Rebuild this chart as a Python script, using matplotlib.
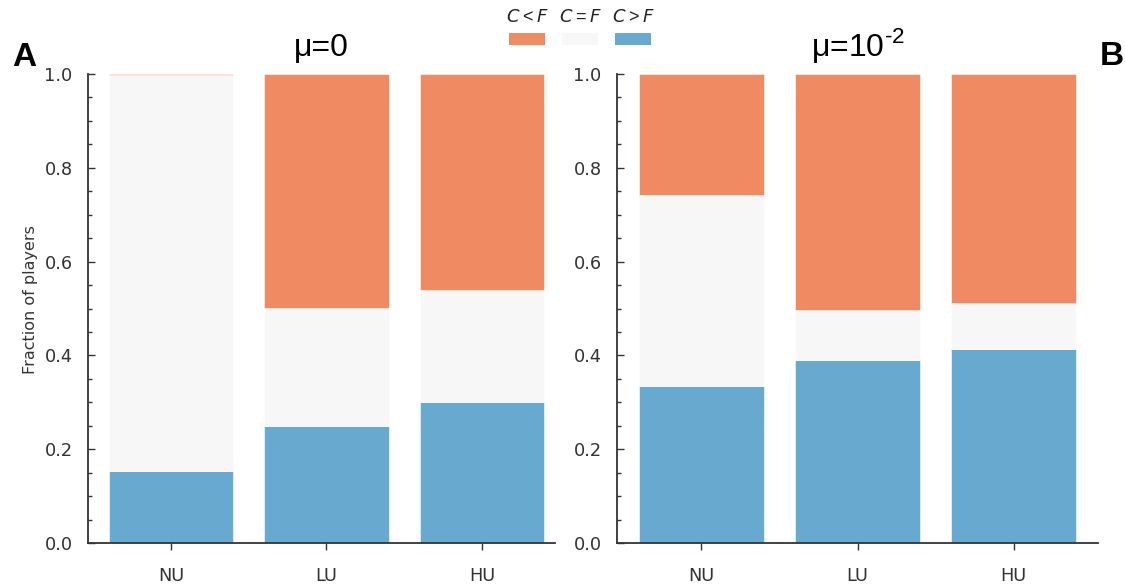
import matplotlib
matplotlib.use("Agg")
import matplotlib.pyplot as plt
from matplotlib.patches import Rectangle
import numpy as np

# data
groups = ["NU", "LU", "HU"]
panels = ["A", "B"]
titles = ["μ=0", "μ=10$^{\u20102}$"]
# fraction of players, stacked bottom to top: C>F, C=F, C<F
c_gt_f = [[0.153, 0.250, 0.300], [0.334, 0.390, 0.414]]
c_eq_f = [[0.844, 0.251, 0.239], [0.408, 0.106, 0.097]]
c_lt_f = [[0.003, 0.499, 0.461], [0.258, 0.504, 0.489]]
series_labels = ["$C < F$", "$C = F$", "$C > F$"]
series_colors = ["#ef8a62", "#f7f7f7", "#67a9cf"]

plt.rcParams["mathtext.fontset"] = "custom"
plt.rcParams["mathtext.rm"] = "Liberation Sans"
plt.rcParams["mathtext.it"] = "DejaVu Sans:italic"
plt.rcParams["font.family"] = "DejaVu Sans"

W, H = 1125, 584
fig = plt.figure(figsize=(W / 100, H / 100), dpi=100)

ax_boxes = [(88, 543, 555, 74), (617, 543, 1098, 74)]
xlims = [(-0.534, 2.47), (-0.54, 2.54)]
grey = "#333333"

for i, (x0, yb, x1, yt) in enumerate(ax_boxes):
    ax = fig.add_axes([x0 / W, 1 - yb / H, (x1 - x0) / W, (yb - yt) / H])
    x = np.arange(len(groups))
    gt = np.array(c_gt_f[i])
    eq = np.array(c_eq_f[i])
    lt = np.array(c_lt_f[i])
    kw = dict(width=0.8, edgecolor="white", linewidth=0.4)
    ax.bar(x, gt, color=series_colors[2], **kw)
    ax.bar(x, eq, bottom=gt, color=series_colors[1], **kw)
    ax.bar(x, lt, bottom=gt + eq, color=series_colors[0], **kw)

    ax.set_xlim(*xlims[i])
    ax.set_ylim(0, 1)
    ax.set_xticks(x)
    ax.set_xticklabels(groups)
    ax.set_yticks(np.arange(0, 1.01, 0.2))
    ax.set_yticks(np.arange(0, 1.01, 0.05), minor=True)
    ax.yaxis.set_major_formatter(matplotlib.ticker.FormatStrFormatter("%.1f"))

    for side in ["top", "right"]:
        ax.spines[side].set_visible(False)
    for side in ["left", "bottom"]:
        ax.spines[side].set_color(grey)
        ax.spines[side].set_linewidth(1.3)

    ax.tick_params(axis="y", which="major", direction="in", length=5, width=1,
                   pad=11, labelsize=12.8, colors=grey)
    ax.tick_params(axis="y", which="minor", direction="in", length=3, width=1,
                   colors=grey)
    ax.tick_params(axis="x", which="major", direction="out", length=5, width=1,
                   pad=12, labelsize=12.8, colors=grey)

    ax.set_title(titles[i], fontsize=23, family="Liberation Sans", pad=13)
    if i == 0:
        ax.set_ylabel("Fraction of players", fontsize=11.5, color=grey)
        ax.yaxis.set_label_coords(-0.108, 0.52)

# panel letters
fig.text(12 / W, 1 - 66 / H, panels[0], fontsize=24, fontweight="bold",
         family="Liberation Sans", va="baseline", ha="left")
fig.text(1100 / W, 1 - 65 / H, panels[1], fontsize=24, fontweight="bold",
         family="Liberation Sans", va="baseline", ha="left")

# legend: labels above colour swatches
leg_x = [527, 580, 633]
for lab, col, cx in zip(series_labels, series_colors, leg_x):
    fig.text(cx / W, 1 - 17 / H, lab, fontsize=13, ha="center", va="center", color="#222222")
    fig.patches.append(Rectangle(((cx - 18) / W, 1 - 45 / H), 36 / W, 12 / H,
                                 transform=fig.transFigure, facecolor=col,
                                 edgecolor="none"))

fig.savefig("out.png", dpi=100)
